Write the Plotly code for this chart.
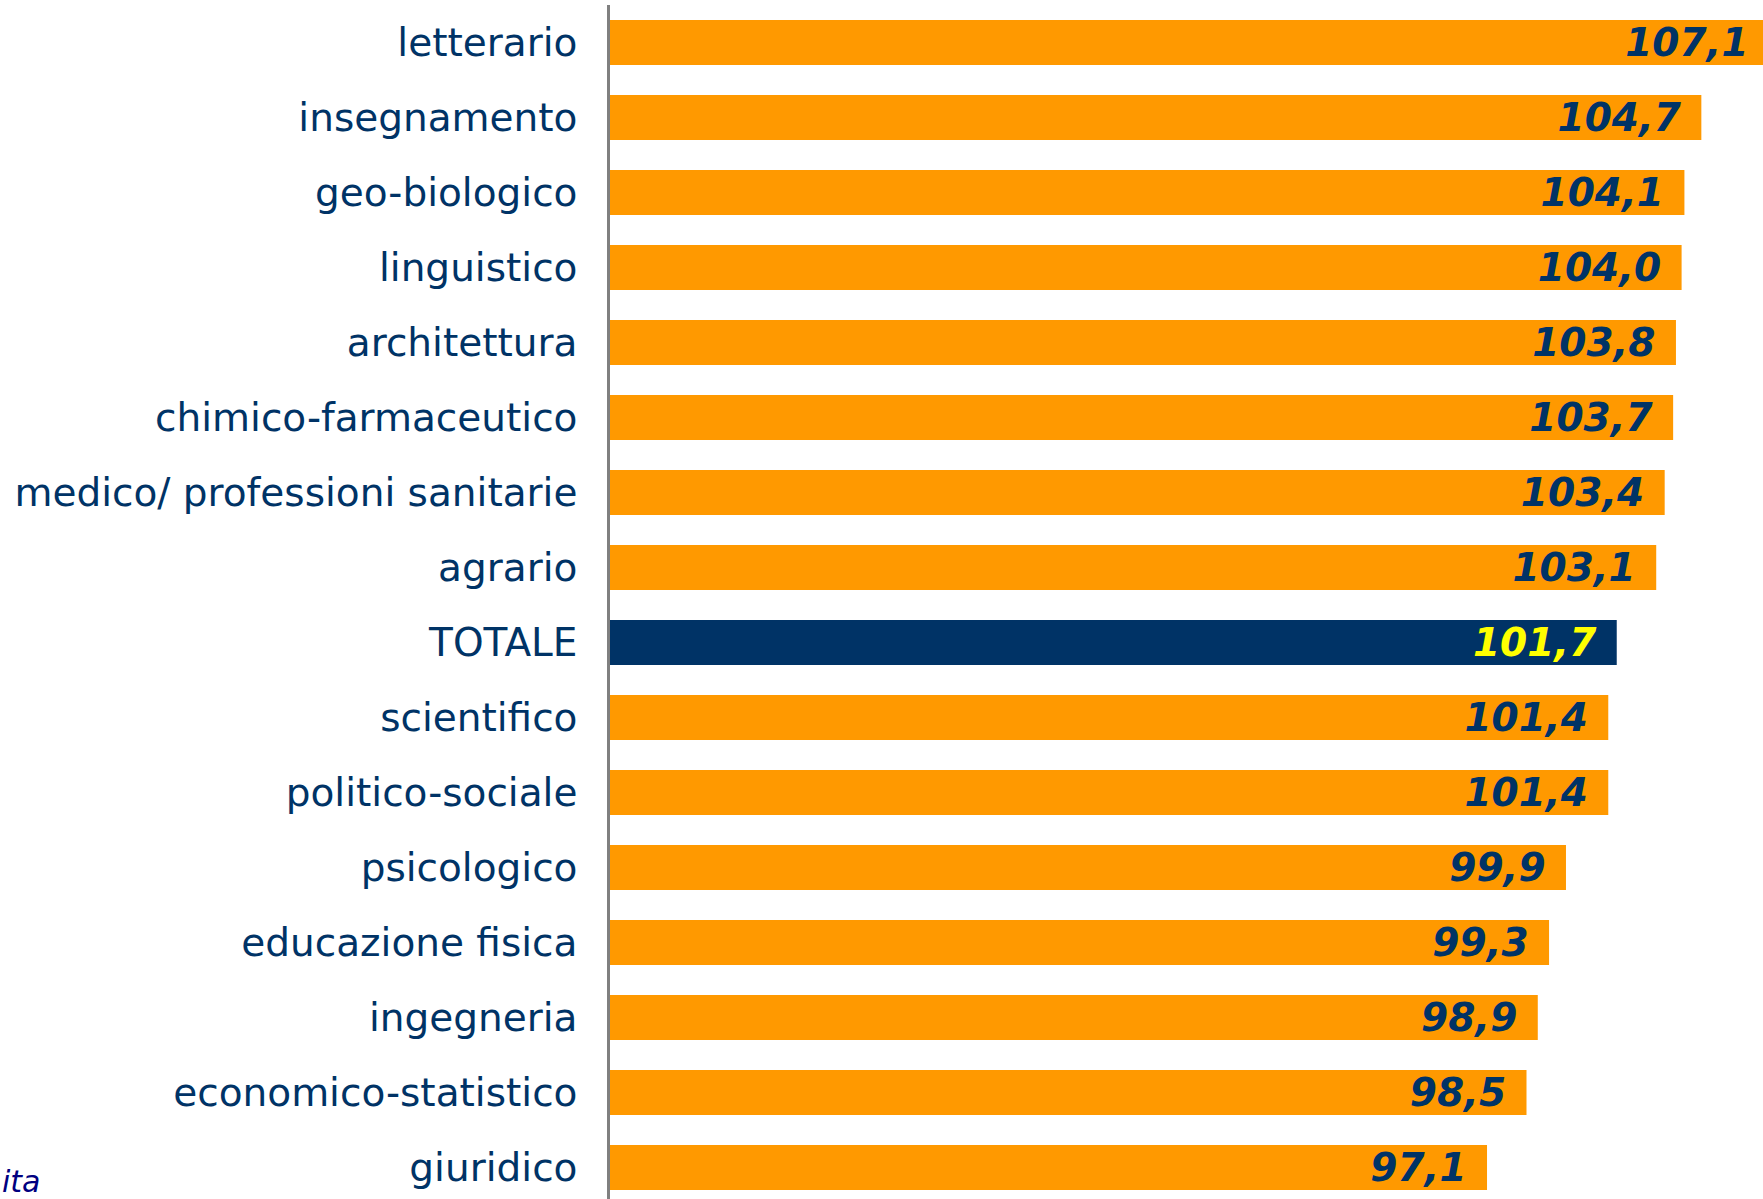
import plotly.graph_objects as go

categories = ["letterario", "insegnamento", "geo-biologico", "linguistico", "architettura",
              "chimico-farmaceutico", "medico/ professioni sanitarie", "agrario", "TOTALE",
              "scientifico", "politico-sociale", "psicologico", "educazione fisica",
              "ingegneria", "economico-statistico", "giuridico"]
values = [107.1, 104.7, 104.1, 104.0, 103.8, 103.7, 103.4, 103.1, 101.7,
          101.4, 101.4, 99.9, 99.3, 98.9, 98.5, 97.1]
value_labels = ["107,1", "104,7", "104,1", "104,0", "103,8", "103,7", "103,4", "103,1", "101,7",
                "101,4", "101,4", "99,9", "99,3", "98,9", "98,5", "97,1"]

ORANGE = "#FF9900"
NAVY = "#003366"
YELLOW = "#FFFF00"

bar_colors = [NAVY if c == "TOTALE" else ORANGE for c in categories]
text_colors = [YELLOW if c == "TOTALE" else NAVY for c in categories]

fig = go.Figure()
fig.add_trace(go.Bar(
    x=values, y=categories, orientation="h",
    marker=dict(color=bar_colors, line=dict(width=0)),
    text=[t + "\u00a0\u200a" for t in value_labels],
    textposition="inside", insidetextanchor="end", textangle=0,
    constraintext="none",
    insidetextfont=dict(family="DejaVu Sans", size=39, color=text_colors,
                        weight="bold", style="italic"),
    hoverinfo="skip", cliponaxis=True,
))

W, H = 1763, 1199
L, T = 610, 5
plot_w = W - L
px_per_unit = 28.2
x_min = 66.0
x_max = x_min + plot_w / px_per_unit
fig.update_layout(
    width=W, height=H,
    margin=dict(l=L, r=0, t=T, b=0, pad=0),
    plot_bgcolor="white", paper_bgcolor="white",
    showlegend=False, bargap=0.4,
    xaxis=dict(range=[x_min, x_max], visible=False,
               showgrid=False, zeroline=False),
    yaxis=dict(categoryorder="array", categoryarray=categories,
               range=[(H - T) / 75.0 - 0.5, -0.5],
               showline=True, linecolor="#808080", linewidth=2.5,
               showgrid=False, zeroline=False, ticks="",
               ticklabelstandoff=22,
               tickfont=dict(family="DejaVu Sans", size=39, color=NAVY)),
    annotations=[dict(
        text="ita", xref="paper", yref="paper",
        x=-L / plot_w, y=(H - 1181) / (H - T),
        xanchor="left", yanchor="middle", showarrow=False,
        font=dict(family="DejaVu Sans", size=30, color="#000080", style="italic"),
    )],
)

fig.write_html("out.html", config={"displayModeBar": False},
               post_script="document.body.style.margin='0px';document.body.style.overflow='hidden';")
